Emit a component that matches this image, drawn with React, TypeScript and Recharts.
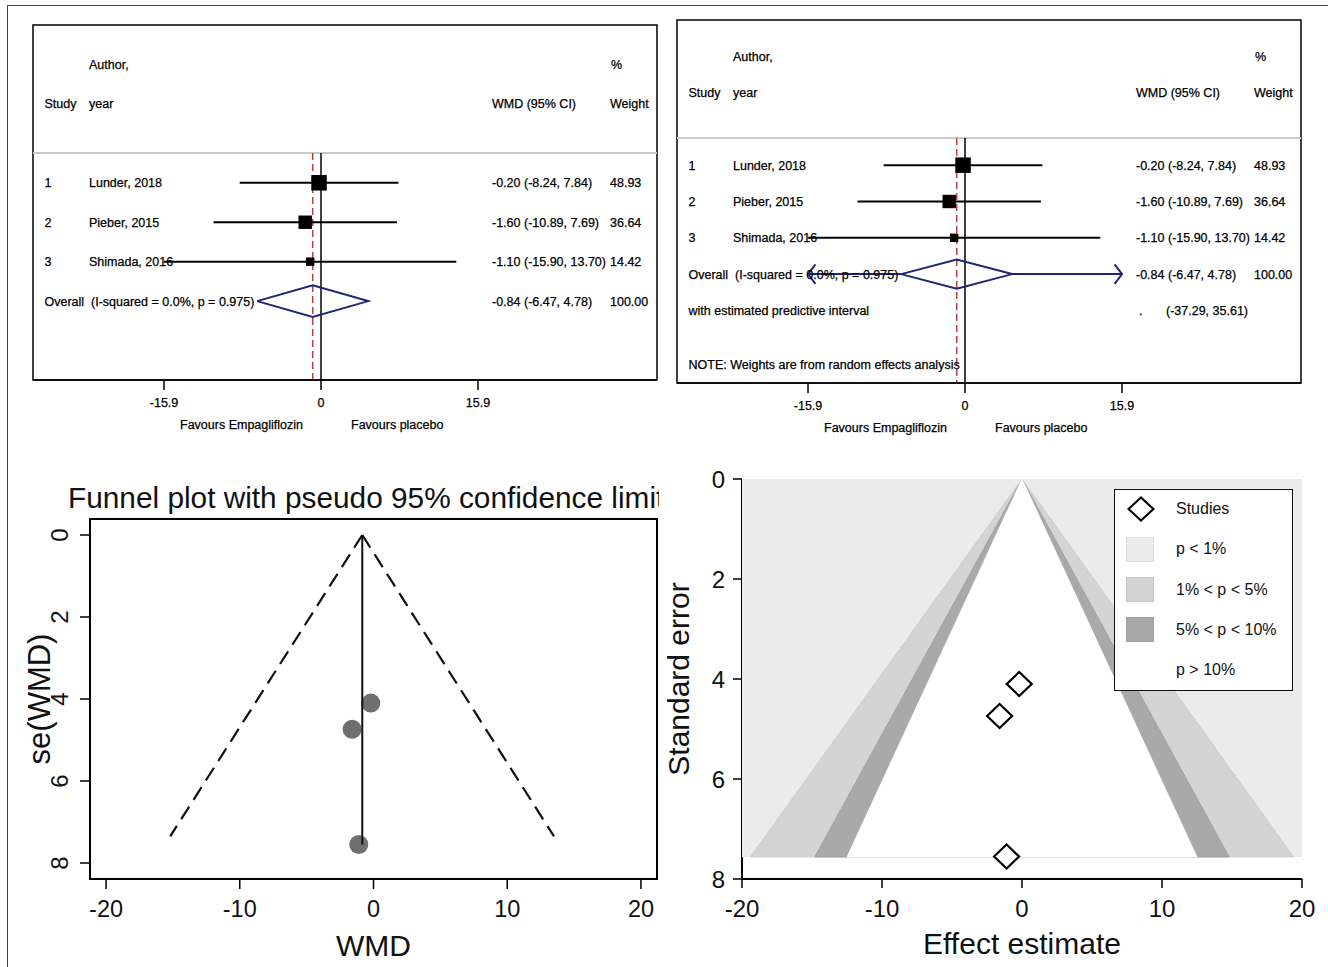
import React from 'react'
import {
  ComposedChart,
  Legend,
  ReferenceArea,
  ReferenceLine,
  Scatter,
  XAxis,
  YAxis,
} from 'recharts'

// ---- studies ----
const studyIds = ['1', '2', '3']
const studyLabels = ['Lunder, 2018', 'Pieber, 2015', 'Shimada, 2016']
const wmd = [-0.2, -1.6, -1.1]
const ciLow = [-8.24, -10.89, -15.9]
const ciHigh = [7.84, 7.69, 13.7]
const weightPct = [48.93, 36.64, 14.42]
const studySE = [4.1, 4.74, 7.55]

// pooled result
const pooledWmd = -0.84
const pooledCI = [-6.47, 4.78]
const predictiveCI = [-37.29, 35.61]
const iSquared = 0.0
const pHet = 0.975

// axes
const forestTicks = [-15.9, 0, 15.9]
const funnelXTicks = [-20, -10, 0, 10, 20]
const funnelYTicks = [0, 2, 4, 6, 8]

// pseudo 95% limits as drawn in the funnel plot
const pseudoLimitSE = 7.35
const pseudoLimitX = [-15.2, 13.5]

// contour-enhanced funnel: band edges at the bottom of the shaded area
const contourSE = 7.56
const contourEdges = [19.4, 14.8, 12.5]
const contourFills = ['#d4d4d4', '#a9a9a9', '#ffffff']
const contourStrokes = ['#c8c8c8', '#9a9a9a', '#ffffff']
const legendLabels = ['Studies', 'p < 1%', '1% < p < 5%', '5% < p < 10%', 'p > 10%']
const legendSwatches = [null, '#ebebeb', '#d4d4d4', '#a9a9a9', null]

const FONT = '"Liberation Sans", Arial, Helvetica, sans-serif'
const INK = '#111'

// forest x-domain spans the whole bordered box
const FX_MIN = -29.17
const FX_MAX = 34.03
const COL = { id: 12.5, author: 57, wmd: 460, weight: 578 }

const f2 = (v: number) => v.toFixed(2)

const NoShape = () => <g />

type RowText = { y: number; cells: { x: number; text: string }[] }

const FavoursLabel = (p: any) => {
  const vb = p.viewBox ?? { x: 1, y: 0, width: 624 }
  const zx = vb.x + ((0 - FX_MIN) / (FX_MAX - FX_MIN)) * vb.width
  const by = vb.y + 49
  return (
    <g fontSize={12.5} fill="#000" stroke="#000" strokeWidth={0.25}>
      <text x={zx - 18} y={by} textAnchor="end">
        Favours Empagliflozin
      </text>
      <text x={zx + 30} y={by}>
        Favours placebo
      </text>
    </g>
  )
}

function Forest({
  left,
  top,
  plotH,
  yMax,
  sepY,
  random,
}: {
  left: number
  top: number
  plotH: number
  yMax: number
  sepY: number
  random: boolean
}) {
  const overallRow = studyIds.length + 1
  const rows: RowText[] = [
    {
      y: -2,
      cells: [
        { x: COL.author, text: 'Author,' },
        { x: COL.weight + 1, text: '%' },
      ],
    },
    {
      y: -1,
      cells: [
        { x: COL.id, text: 'Study' },
        { x: COL.author, text: 'year' },
        { x: COL.wmd, text: 'WMD (95% CI)' },
        { x: COL.weight, text: 'Weight' },
      ],
    },
    ...studyIds.map((id, i) => ({
      y: i + 1,
      cells: [
        { x: COL.id, text: id },
        { x: COL.author, text: studyLabels[i] },
        { x: COL.wmd, text: `${f2(wmd[i])} (${f2(ciLow[i])}, ${f2(ciHigh[i])})` },
        { x: COL.weight, text: f2(weightPct[i]) },
      ],
    })),
    {
      y: overallRow,
      cells: [
        {
          x: COL.id,
          text: `Overall  (I-squared = ${iSquared.toFixed(1)}%, p = ${pHet.toFixed(3)})`,
        },
        { x: COL.wmd, text: `${f2(pooledWmd)} (${f2(pooledCI[0])}, ${f2(pooledCI[1])})` },
        { x: COL.weight, text: '100.00' },
      ],
    },
  ]
  if (random) {
    rows.push(
      {
        y: overallRow + 1,
        cells: [
          { x: COL.id, text: 'with estimated predictive interval' },
          { x: COL.wmd + 3, text: '.' },
          { x: COL.wmd + 30, text: `(${f2(predictiveCI[0])}, ${f2(predictiveCI[1])})` },
        ],
      },
      {
        y: overallRow + 2.5,
        cells: [{ x: COL.id, text: 'NOTE: Weights are from random effects analysis' }],
      },
    )
  }

  const RowTick = (props: any) => {
    const row = rows.find((r) => Math.abs(r.y - props.payload.value) < 1e-6)
    if (!row) return <g />
    return (
      <g>
        {row.cells.map((c, k) => (
          <text
            key={k}
            x={c.x}
            y={props.y}
            dy="0.36em"
            fontSize={12.5}
            fill="#000"
            stroke="#000"
            strokeWidth={0.25}
            style={{ whiteSpace: 'pre' }}
          >
            {c.text}
          </text>
        ))}
      </g>
    )
  }

  const maxW = Math.max(...weightPct)
  const SquareShape = (p: any) => {
    const s = 15.5 * Math.sqrt(p.payload.w / maxW)
    return <rect x={p.cx - s / 2} y={p.cy - s / 2} width={s} height={s} fill="#000" />
  }

  const studyPts = studyIds.map((_, i) => ({ x: wmd[i], y: i + 1, w: weightPct[i] }))
  const dh = 0.4
  const diamond = [
    { x: pooledCI[0], y: overallRow },
    { x: pooledWmd, y: overallRow - dh },
    { x: pooledCI[1], y: overallRow },
    { x: pooledWmd, y: overallRow + dh },
    { x: pooledCI[0], y: overallRow },
  ]
  const predLo = Math.max(predictiveCI[0], forestTicks[0])
  const predHi = Math.min(predictiveCI[1], forestTicks[forestTicks.length - 1])
  const ah = 0.27
  const aw = 0.75
  const arrowL = [
    { x: predLo + aw, y: overallRow - ah },
    { x: predLo, y: overallRow },
    { x: predLo + aw, y: overallRow + ah },
  ]
  const arrowR = [
    { x: predHi - aw, y: overallRow - ah },
    { x: predHi, y: overallRow },
    { x: predHi - aw, y: overallRow + ah },
  ]
  const navy = '#1d2574'

  return (
    <div style={{ position: 'absolute', left, top }}>
      <ComposedChart
        width={626}
        height={plotH + 61}
        margin={{ top: 1, right: 1, bottom: 0, left: 0 }}
      >
        <XAxis
          type="number"
          dataKey="x"
          domain={[FX_MIN, FX_MAX]}
          allowDataOverflow
          ticks={forestTicks}
          interval={0}
          tickSize={10}
          tickMargin={8}
          height={60}
          axisLine={{ stroke: '#000', strokeWidth: 1.5 }}
          tickLine={{ stroke: '#000', strokeWidth: 1.5 }}
          tick={{ fontSize: 12.5, fill: '#000', stroke: '#000', strokeWidth: 0.25 }}
          tickFormatter={(v: number) => (v === 0 ? '0' : v.toFixed(1))}
          label={<FavoursLabel />}
        />
        <YAxis
          type="number"
          dataKey="y"
          domain={[-3, yMax]}
          reversed
          allowDataOverflow
          width={1}
          axisLine={false}
          tickLine={false}
          ticks={rows.map((r) => r.y)}
          interval={0}
          tick={RowTick}
        />
        <ReferenceArea
          x1={FX_MIN}
          x2={FX_MAX}
          y1={-3}
          y2={yMax}
          fill="none"
          stroke="#000"
          strokeWidth={1.5}
        />
        <ReferenceLine y={sepY} stroke="#c9c9c9" strokeWidth={2} />
        <ReferenceLine
          segment={[
            { x: 0, y: sepY },
            { x: 0, y: yMax },
          ]}
          stroke="#000"
          strokeWidth={1.5}
        />
        <ReferenceLine
          segment={[
            { x: pooledWmd, y: sepY },
            { x: pooledWmd, y: yMax },
          ]}
          stroke="#b8403c"
          strokeWidth={1.5}
          strokeDasharray="7 4"
        />
        {studyIds.map((id, i) => (
          <ReferenceLine
            key={id}
            segment={[
              { x: ciLow[i], y: i + 1 },
              { x: ciHigh[i], y: i + 1 },
            ]}
            stroke="#000"
            strokeWidth={2}
          />
        ))}
        {random && (
          <ReferenceLine
            segment={[
              { x: predLo, y: overallRow },
              { x: pooledCI[0], y: overallRow },
            ]}
            stroke={navy}
            strokeWidth={2}
          />
        )}
        {random && (
          <ReferenceLine
            segment={[
              { x: pooledCI[1], y: overallRow },
              { x: predHi, y: overallRow },
            ]}
            stroke={navy}
            strokeWidth={2}
          />
        )}
        <Scatter data={studyPts} shape={SquareShape} isAnimationActive={false} />
        <Scatter
          data={diamond}
          line={{ stroke: navy, strokeWidth: 2 }}
          shape={NoShape}
          isAnimationActive={false}
        />
        {random && (
          <Scatter
            data={arrowL}
            line={{ stroke: navy, strokeWidth: 2 }}
            shape={NoShape}
            isAnimationActive={false}
          />
        )}
        {random && (
          <Scatter
            data={arrowR}
            line={{ stroke: navy, strokeWidth: 2 }}
            shape={NoShape}
            isAnimationActive={false}
          />
        )}
      </ComposedChart>
    </div>
  )
}

const RotatedTitle = (p: any) => {
  const cy = p.viewBox ? p.viewBox.y + p.viewBox.height / 2 : p.fallbackY
  return (
    <text
      x={p.cx}
      y={cy}
      dy="0.36em"
      textAnchor="middle"
      fontSize={p.size}
      fill={INK}
      transform={`rotate(-90 ${p.cx} ${cy})`}
    >
      {p.text}
    </text>
  )
}

const BottomTitle = (p: any) => {
  const vb = p.viewBox ?? { x: 0, y: 0, width: 0 }
  return (
    <text x={vb.x + vb.width / 2} y={vb.y + p.dy} textAnchor="middle" fontSize={p.size} fill={INK}>
      {p.text}
    </text>
  )
}

const RotatedTick = (p: any) => {
  const cx = p.cx
  const cy = p.y
  return (
    <text
      x={cx}
      y={cy}
      dy="0.36em"
      textAnchor="middle"
      fontSize={24}
      fill={INK}
      transform={`rotate(-90 ${cx} ${cy})`}
    >
      {p.payload.value}
    </text>
  )
}

function FunnelPlot() {
  const pts = studyIds.map((_, i) => ({ x: wmd[i], y: studySE[i] }))
  const maxSE = Math.max(...studySE)
  const Dot = (p: any) => <circle cx={p.cx} cy={p.cy} r={9.5} fill="#6f6f6f" />
  return (
    <div
      style={{
        position: 'absolute',
        left: 0,
        top: 460,
        width: 659,
        height: 507,
        overflow: 'hidden',
      }}
    >
      <div
        style={{
          position: 'absolute',
          left: 68,
          top: 23,
          fontSize: 29.8,
          lineHeight: '30px',
          whiteSpace: 'nowrap',
          color: INK,
        }}
      >
        Funnel plot with pseudo 95% confidence limits
      </div>
      <ComposedChart width={680} height={507} margin={{ top: 59, right: 23, bottom: 8, left: 0 }}>
        <XAxis
          type="number"
          dataKey="x"
          domain={[-21.2, 21.2]}
          allowDataOverflow
          ticks={funnelXTicks}
          interval={0}
          tickSize={10}
          tickMargin={11}
          height={80}
          axisLine={{ stroke: '#000', strokeWidth: 2 }}
          tickLine={{ stroke: '#000', strokeWidth: 1.5 }}
          tick={{ fontSize: 23.5, fill: INK }}
          label={<BottomTitle text="WMD" dy={77} size={30} />}
        />
        <YAxis
          type="number"
          dataKey="y"
          domain={[-0.39, 8.39]}
          reversed
          allowDataOverflow
          ticks={funnelYTicks}
          interval={0}
          width={90}
          tickSize={10}
          axisLine={{ stroke: '#000', strokeWidth: 2 }}
          tickLine={{ stroke: '#000', strokeWidth: 1.5 }}
          tick={<RotatedTick cx={59} />}
          label={<RotatedTitle text="se(WMD)" cx={39} size={31} fallbackY={239} />}
        />
        <ReferenceArea
          x1={-21.2}
          x2={21.2}
          y1={-0.39}
          y2={8.39}
          fill="none"
          stroke="#000"
          strokeWidth={2}
        />
        <ReferenceLine
          segment={[
            { x: pooledWmd, y: 0 },
            { x: pseudoLimitX[0], y: pseudoLimitSE },
          ]}
          stroke="#111"
          strokeWidth={2.2}
          strokeDasharray="15 8"
        />
        <ReferenceLine
          segment={[
            { x: pooledWmd, y: 0 },
            { x: pseudoLimitX[1], y: pseudoLimitSE },
          ]}
          stroke="#111"
          strokeWidth={2.2}
          strokeDasharray="15 8"
        />
        <Scatter data={pts} shape={Dot} isAnimationActive={false} />
        <Scatter
          data={[
            { x: pooledWmd, y: 0 },
            { x: pooledWmd, y: maxSE },
          ]}
          line={{ stroke: '#111', strokeWidth: 2 }}
          shape={NoShape}
          isAnimationActive={false}
        />
      </ComposedChart>
    </div>
  )
}

const StudyDiamond = (p: any) => (
  <polygon
    points={`${p.cx},${p.cy - 12} ${p.cx + 12.5},${p.cy} ${p.cx},${p.cy + 12} ${p.cx - 12.5},${p.cy}`}
    fill="#fff"
    stroke="#000"
    strokeWidth={2.2}
  />
)

const ContourLegend = () => (
  <div
    style={{
      position: 'relative',
      width: 179,
      height: 202,
      boxSizing: 'border-box',
      border: '1.5px solid #111',
      background: '#fff',
      fontFamily: FONT,
      fontSize: 16,
      color: INK,
    }}
  >
    {legendLabels.map((lab, i) => {
      const cy = 19 + i * 40.3
      const sw = legendSwatches[i]
      return (
        <React.Fragment key={lab}>
          {i === 0 && (
            <svg
              width={28}
              height={26}
              style={{ position: 'absolute', left: 12, top: cy - 13 }}
            >
              <polygon points="14,1.5 26.5,13 14,24.5 1.5,13" fill="#fff" stroke="#000" strokeWidth={2.2} />
            </svg>
          )}
          {sw && (
            <div
              style={{
                position: 'absolute',
                left: 11,
                top: cy - 12.5,
                width: 28,
                height: 25,
                background: sw,
                boxSizing: 'border-box',
                border: '1px solid rgba(0,0,0,0.06)',
              }}
            />
          )}
          <div
            style={{
              position: 'absolute',
              left: 61,
              top: cy - 10,
              lineHeight: '20px',
              whiteSpace: 'nowrap',
            }}
          >
            {lab}
          </div>
        </React.Fragment>
      )
    })}
  </div>
)

function ContourFunnel() {
  const pts = studyIds.map((_, i) => ({ x: wmd[i], y: studySE[i] }))
  const outer = contourEdges[0] + 0.6
  const bg = [
    { x: -outer, y: 0 },
    { x: outer, y: 0 },
    { x: outer, y: contourSE },
    { x: -outer, y: contourSE },
    { x: -outer, y: 0 },
  ]
  return (
    <div style={{ position: 'absolute', left: 640, top: 460 }}>
      <ComposedChart width={680} height={507} margin={{ top: 19, right: 18, bottom: 8, left: 0 }}>
        <XAxis
          type="number"
          dataKey="x"
          domain={[-20, 20]}
          allowDataOverflow
          ticks={funnelXTicks}
          interval={0}
          tickSize={9}
          tickMargin={12}
          height={80}
          axisLine={{ stroke: '#000', strokeWidth: 2 }}
          tickLine={{ stroke: '#000', strokeWidth: 1.5 }}
          tick={{ fontSize: 24, fill: INK }}
          label={<BottomTitle text="Effect estimate" dy={75} size={30} />}
        />
        <YAxis
          type="number"
          dataKey="y"
          domain={[0, 8]}
          reversed
          allowDataOverflow
          ticks={funnelYTicks}
          interval={0}
          width={102}
          tickSize={9}
          tickMargin={8}
          axisLine={{ stroke: '#000', strokeWidth: 2 }}
          tickLine={{ stroke: '#000', strokeWidth: 1.5 }}
          tick={{ fontSize: 24, fill: INK }}
          label={<RotatedTitle text="Standard error" cx={38} size={30} fallbackY={219} />}
        />
        <Scatter
          data={bg}
          line={{ fill: '#ebebeb', stroke: 'none' }}
          shape={NoShape}
          isAnimationActive={false}
        />
        {contourEdges.map((e, i) => (
          <Scatter
            key={e}
            data={[
              { x: 0, y: 0 },
              { x: -e, y: contourSE },
              { x: e, y: contourSE },
              { x: 0, y: 0 },
            ]}
            line={{ fill: contourFills[i], stroke: contourStrokes[i], strokeWidth: 0.8 }}
            shape={NoShape}
            isAnimationActive={false}
          />
        ))}
        <Scatter data={pts} shape={StudyDiamond} isAnimationActive={false} />
        <Legend
          layout="horizontal"
          verticalAlign="middle"
          align="center"
          content={<ContourLegend />}
          wrapperStyle={{ left: 474, top: 29, width: 179, height: 202, right: 'auto', bottom: 'auto' }}
        />
      </ComposedChart>
    </div>
  )
}

export default function App() {
  return (
    <div
      style={{
        position: 'absolute',
        left: 0,
        top: 0,
        width: 1328,
        height: 967,
        background: '#fff',
        fontFamily: FONT,
        overflow: 'hidden',
      }}
    >
      <div
        style={{
          position: 'absolute',
          left: 7,
          top: 5,
          right: 0,
          bottom: 0,
          borderTop: '1px solid #444',
          borderLeft: '1px solid #444',
        }}
      />
      <Forest left={32} top={24} plotH={355} yMax={6} sepY={0.245} random={false} />
      <Forest left={676} top={19} plotH={363} yMax={7} sepY={0.25} random />
      <FunnelPlot />
      <ContourFunnel />
    </div>
  )
}
